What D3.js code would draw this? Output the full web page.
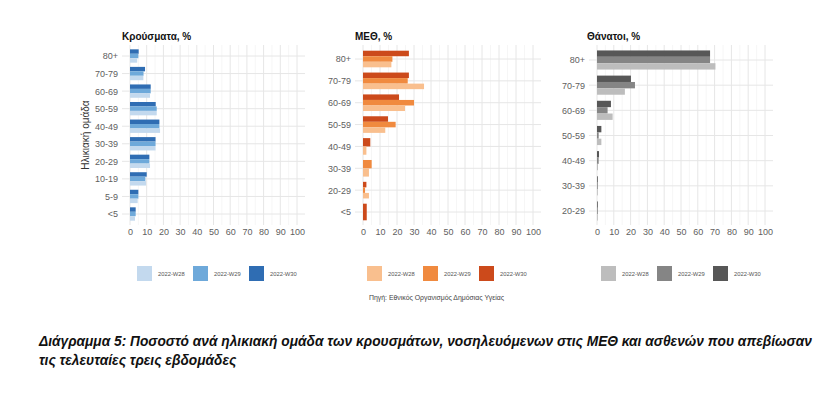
<!DOCTYPE html>
<html><head><meta charset="utf-8">
<script src="https://cdn.jsdelivr.net/npm/d3@7"></script>
<style>body{margin:0;background:#fff}svg{display:block}</style>
</head><body>
<script>
// ---- data ----
const weeks = ["2022-W28","2022-W29","2022-W30"];
const xTicks = [0,10,20,30,40,50,60,70,80,90,100];

const casesCats = ["80+","70-79","60-69","50-59","40-49","30-39","20-29","10-19","5-9","<5"];
const casesW28 = [4.3, 8.0, 12.0, 16.0, 18.0, 15.3, 12.0, 9.6, 4.6, 3.0];
const casesW29 = [5.0, 8.1, 12.4, 16.0, 17.6, 15.3, 11.6, 9.2, 5.0, 3.4];
const casesW30 = [5.2, 9.0, 12.4, 15.4, 17.6, 15.3, 11.6, 10.0, 5.0, 3.4];

const icuCats = ["80+","70-79","60-69","50-59","40-49","30-39","20-29","<5"];
const icuW28 = [16.7, 35.9, 24.7, 13.1, 2.0, 3.5, 3.5, null];
const icuW29 = [17.3, 26.3, 30.0, 19.2, null, 5.1, 1.2, null];
const icuW30 = [27.0, 27.0, 21.2, 14.7, 4.3, null, 2.0, 2.2];

const deathCats = ["80+","70-79","60-69","50-59","40-49","30-39","20-29"];
const deathW28 = [70.5, 16.6, 9.3, 2.6, 0.6, 0.4, 0.4];
const deathW29 = [67.3, 22.6, 6.3, 1.0, 1.0, 0.4, 0.4];
const deathW30 = [67.3, 20.2, 8.3, 2.6, 1.2, 0.4, 0.4];

const titles = ["Κρούσματα, %","ΜΕΘ, %","Θάνατοι, %"];
const yAxisTitle = "Ηλικιακή ομάδα";
const sourceText = "Πηγή: Εθνικός Οργανισμός Δημόσιας Υγείας";
const captionLines = ["Διάγραμμα 5: Ποσοστό ανά ηλικιακή ομάδα των κρουσμάτων, νοσηλευόμενων στις ΜΕΘ και ασθενών που απεβίωσαν",
                      "τις τελευταίες τρεις εβδομάδες"];

const palettes = [
  ["#c3d9ee","#6ea9da","#2f6db3"],
  ["#f9bf8e","#f08a3f","#cc4a1b"],
  ["#bdbdbd","#858585","#575757"]
];

// ---- layout ----
const W = 840, H = 394;
const svg = d3.select("body").append("svg").attr("width",W).attr("height",H)
  .style("font-family","'Liberation Sans', Arial, sans-serif");
svg.append("rect").attr("width",W).attr("height",H).attr("fill","#fff");

const panels = [
  {cats:casesCats, series:[casesW28,casesW29,casesW30], x0:130, x1:297, yTop:56, yBot:214, titleX:122},
  {cats:icuCats, series:[icuW28,icuW29,icuW30], x0:363, x1:533, yTop:59, yBot:212, titleX:355},
  {cats:deathCats, series:[deathW28,deathW29,deathW30], x0:597, x1:765, yTop:60, yBot:211, titleX:587}
];
const panelTop = 45, panelBot = 225;

panels.forEach((p, pi) => {
  const x = d3.scaleLinear().domain([0,100]).range([p.x0, p.x1]);
  const y = d3.scalePoint().domain(p.cats).range([p.yTop, p.yBot]);
  const step = y.step();
  const gw = step * 0.76;
  const g = svg.append("g");
  const left = x(0) - 8, right = x(100) + 8;

  // minor vertical grid
  g.selectAll(".vmin").data(d3.range(5,100,10)).join("line")
    .attr("x1",d=>x(d)).attr("x2",d=>x(d)).attr("y1",panelTop).attr("y2",panelBot)
    .attr("stroke","#f4f4f4").attr("stroke-width",0.8);
  // major vertical grid
  g.selectAll(".vmaj").data(xTicks).join("line")
    .attr("x1",d=>x(d)).attr("x2",d=>x(d)).attr("y1",panelTop).attr("y2",panelBot)
    .attr("stroke","#e6e6e6").attr("stroke-width",1);
  // horizontal grid
  g.selectAll(".hmaj").data(p.cats).join("line")
    .attr("x1",left).attr("x2",right).attr("y1",d=>y(d)).attr("y2",d=>y(d))
    .attr("stroke","#e6e6e6").attr("stroke-width",1);

  // bars (dodged; top = W30, bottom = W28; missing bars share the width)
  p.cats.forEach((c, ci) => {
    const present = [2,1,0].filter(si => p.series[si][ci] != null);
    const bh = gw / present.length;
    present.forEach((si, k) => {
      const v = p.series[si][ci];
      g.append("rect")
        .attr("x", x(0))
        .attr("y", y(c) - gw/2 + k*bh)
        .attr("width", Math.max(0.8, x(v) - x(0)))
        .attr("height", bh)
        .attr("fill", palettes[pi][si]);
    });
  });

  // axes
  const xa = d3.axisBottom(x).tickValues(xTicks).tickSize(0).tickPadding(0);
  const gx = g.append("g").attr("transform",`translate(0,${229})`).call(xa);
  gx.select(".domain").remove();
  gx.selectAll("text").attr("font-size",9).attr("fill","#606060")
    .attr("font-family","'Liberation Sans', Arial, sans-serif");

  const ya = d3.axisLeft(y).tickSize(0).tickPadding(0);
  const gy = g.append("g").attr("transform",`translate(${x(0)-12},0)`).call(ya);
  gy.select(".domain").remove();
  gy.selectAll("text").attr("font-size",9).attr("fill","#606060")
    .attr("font-family","'Liberation Sans', Arial, sans-serif");

  // title
  svg.append("text").attr("x",p.titleX).attr("y",39.5).text(titles[pi])
    .attr("font-size",10).attr("font-weight","bold").attr("fill","#111");

  // legend
  weeks.forEach((w, wi) => {
    const lx = p.x0 + 7 + wi*56 - (pi===1 ? 3 : 0) - (pi===2 ? 3 : 0);
    svg.append("rect").attr("x",lx).attr("y",266).attr("width",15).attr("height",15)
      .attr("fill",palettes[pi][wi]);
    svg.append("text").attr("x",lx+21).attr("y",276).text(w)
      .attr("font-size",5.8).attr("fill","#555");
  });
});

// y axis title
svg.append("text").attr("transform","translate(89,135) rotate(-90)")
  .attr("text-anchor","middle").attr("font-size",10).attr("fill","#333").text(yAxisTitle);

// source
svg.append("text").attr("x",369).attr("y",300).attr("font-size",6.9).attr("fill","#444").text(sourceText);

// caption
const cap1 = svg.append("text").attr("x",39).attr("y",346)
  .attr("font-size",13).attr("font-weight","bold").attr("font-style","italic").attr("fill","#111")
  .text(captionLines[0]);
const len = cap1.node().getComputedTextLength();
const fs = 13 * 774 / len;
cap1.attr("font-size", fs);
svg.append("text").attr("x",39).attr("y",365)
  .attr("font-size",fs).attr("font-weight","bold").attr("font-style","italic").attr("fill","#111")
  .text(captionLines[1]);
</script>
</body></html>
